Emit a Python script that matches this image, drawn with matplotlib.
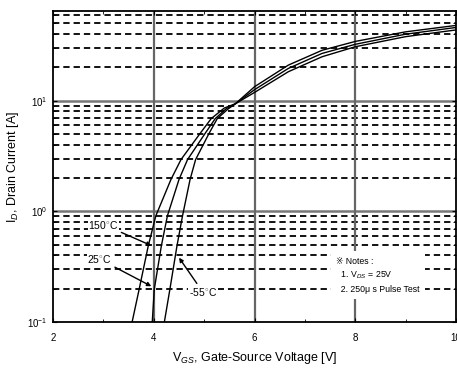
import numpy as np
import matplotlib
matplotlib.use("Agg")
import matplotlib.pyplot as plt
from matplotlib.ticker import FixedLocator, NullFormatter

plt.rcParams["font.family"] = ["Liberation Sans", "DejaVu Sans"]
plt.rcParams["mathtext.fontset"] = "custom"
plt.rcParams["mathtext.rm"] = "Liberation Sans"
plt.rcParams["mathtext.it"] = "Liberation Sans:italic"

# values (V_GS in V, I_D in A)
vgs_150 = [3.57, 3.71, 3.89, 4.04, 4.34, 4.54, 4.91, 5.14, 5.40, 5.62, 6.0, 6.67, 7.34, 8.0, 9.0, 10.0]
id_150 = [0.10, 0.198, 0.487, 0.91, 1.94, 2.94, 5.0, 6.9, 8.6, 9.4, 11.9, 18.3, 25.0, 30.8, 38.0, 43.7]

vgs_25 = [3.97, 4.01, 4.15, 4.27, 4.50, 4.67, 5.01, 5.22, 5.44, 5.62, 6.0, 6.67, 7.34, 8.0, 9.0, 10.0]
id_25 = [0.10, 0.198, 0.487, 0.91, 1.94, 2.94, 5.0, 6.9, 8.5, 9.4, 12.6, 19.6, 26.8, 32.4, 40.0, 46.0]

vgs_m55 = [4.21, 4.32, 4.46, 4.57, 4.72, 4.83, 5.09, 5.26, 5.47, 5.62, 6.0, 6.67, 7.34, 8.0, 9.0, 10.0]
id_m55 = [0.10, 0.198, 0.487, 0.91, 1.94, 2.94, 5.0, 6.9, 8.4, 9.4, 13.4, 21.0, 28.6, 34.4, 42.0, 48.0]

x_ticks = [2, 4, 6, 8, 10]
y_ticks = [0.1, 1, 10]
y_tick_labels = [r"$\mathregular{10^{-1}}$", r"$\mathregular{10^{0}}$", r"$\mathregular{10^{1}}$"]

fig = plt.figure(figsize=(4.57, 3.74), dpi=100)
ax = fig.add_axes([0.116, 0.139, 0.882, 0.832])

ax.set_yscale("log")
ax.set_xlim(2, 10)
ax.set_ylim(0.1, 65)

# grid: dashed at minor decades, solid grey at decades and even volts
minor_y = [m * 10.0 ** e for e in (-1, 0, 1) for m in range(2, 10)]
for yv in minor_y:
    if yv < 65:
        ax.axhline(yv, color="black", lw=1.3, ls=(0, (3.5, 2.2)), zorder=1)
for yv in [1, 10]:
    ax.axhline(yv, color="#777777", lw=1.8, zorder=1)
for xv in [4, 6, 8]:
    ax.axvline(xv, color="#666666", lw=1.6, zorder=1)

ax.plot(vgs_150, id_150, color="black", lw=1.0, zorder=3)
ax.plot(vgs_25, id_25, color="black", lw=1.0, zorder=3)
ax.plot(vgs_m55, id_m55, color="black", lw=1.0, zorder=3)

ax.xaxis.set_major_locator(FixedLocator(x_ticks))
ax.xaxis.set_minor_locator(FixedLocator([3, 5, 7, 9]))
ax.set_xticklabels([str(v) for v in x_ticks])
ax.yaxis.set_major_locator(FixedLocator(y_ticks))
ax.set_yticklabels(y_tick_labels)
ax.yaxis.set_minor_formatter(NullFormatter())
ax.tick_params(which="both", direction="in", top=True, right=True, labelsize=7)
ax.tick_params(axis="x", pad=8)
ax.tick_params(axis="y", pad=4)
ax.tick_params(which="major", length=3)
ax.tick_params(which="minor", length=2)

for s in ax.spines.values():
    s.set_linewidth(1.3)

ax.set_xlabel(r"V$_{GS}$, Gate-Source Voltage [V]", fontsize=9, labelpad=5)
ax.set_ylabel(r"I$_D$, Drain Current [A]", fontsize=9, labelpad=4)

# temperature labels with arrows
arrow = dict(arrowstyle="-|>", color="black", lw=1.0, mutation_scale=6)
ax.annotate("150$^{\\circ}$C", xy=(4.0, 0.48), xytext=(2.7, 0.76), fontsize=7.5,
            va="center", arrowprops=arrow, zorder=4,
            bbox=dict(facecolor="white", edgecolor="none", pad=0.5))
ax.annotate("25$^{\\circ}$C", xy=(4.0, 0.205), xytext=(2.68, 0.37), fontsize=7.5,
            va="center", arrowprops=arrow, zorder=4,
            bbox=dict(facecolor="white", edgecolor="none", pad=0.5))
ax.annotate("-55$^{\\circ}$C", xy=(4.47, 0.40), xytext=(4.7, 0.185), fontsize=7.5,
            va="center", arrowprops=arrow, zorder=4,
            bbox=dict(facecolor="white", edgecolor="none", pad=0.5))

# notes box
ax.text(7.62, 0.39,
        "\u203b Notes :\n  1. V$_{DS}$ = 25V\n  2. 250\u03bc s Pulse Test",
        fontsize=6.3, va="top", ha="left", linespacing=1.5, zorder=4,
        bbox=dict(facecolor="white", edgecolor="none", pad=4))

fig.savefig("out.png", dpi=100)
